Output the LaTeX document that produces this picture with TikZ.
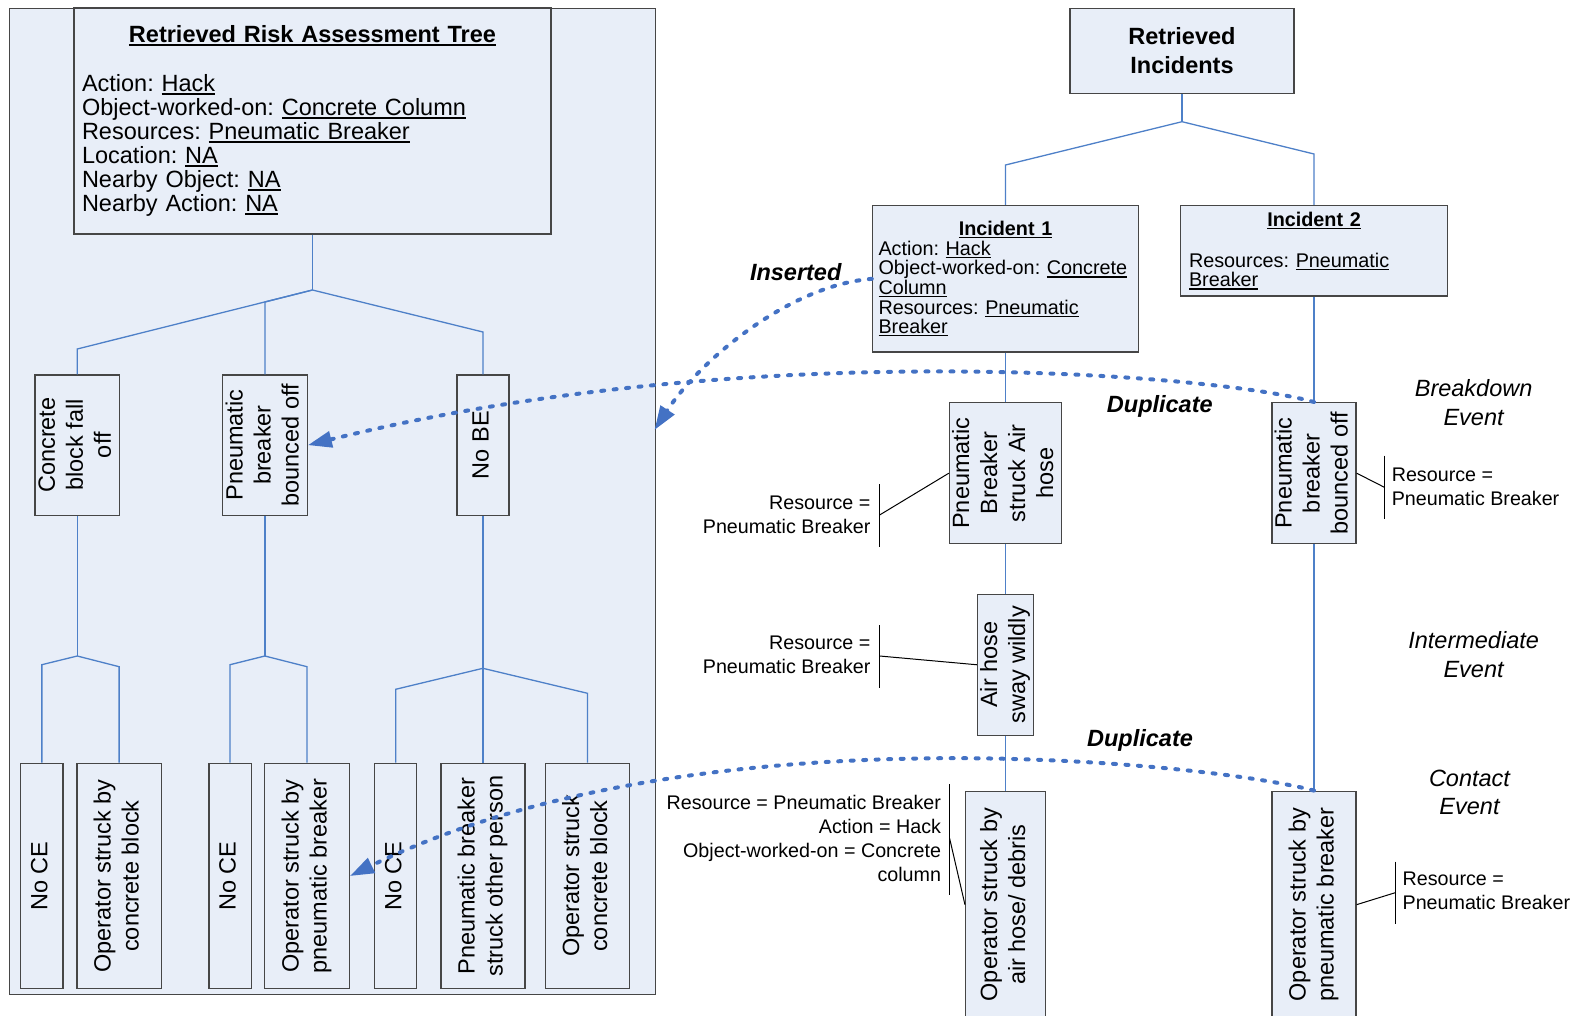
\documentclass[tikz,border=0pt]{standalone}
\usepackage{fontspec}
\setmainfont{Liberation Sans}
\usetikzlibrary{arrows.meta}

\definecolor{boxfill}{RGB}{232,238,248}
\definecolor{edge}{RGB}{70,70,70}
\definecolor{treeblue}{RGB}{78,128,200}
\definecolor{linkblue}{RGB}{68,114,196}

% underline sitting just below the baseline
\newcommand{\undl}[1]{\leavevmode\setbox0=\hbox{#1}\rlap{\rule[-0.14em]{\wd0}{0.065em}}\box0}

% rotated, centred multi-line label for the upright event boxes
\newcommand{\vtext}[1]{\rotatebox{90}{\begin{tabular}{@{}c@{}}#1\end{tabular}}}

\frenchspacing

\begin{document}
\begin{tikzpicture}[x=1pt,y=-1pt,
  box/.style={draw=edge, line width=1.4pt, fill=boxfill, inner sep=0pt},
  tree/.style={draw=treeblue, line width=1.3pt},
  note/.style={draw=black, line width=1pt},
  link/.style={draw=linkblue, line width=4pt, dash pattern=on 3pt off 9.5pt,
    line cap=round, -{Triangle[length=24pt,width=16pt]}},
  vfont/.style={font=\fontsize{23.5}{28}\selectfont},
  anno/.style={inner sep=0pt, font=\fontsize{19.7}{24}\selectfont},
  event/.style={inner sep=0pt, align=center, font=\fontsize{23.5}{28.7}\selectfont\itshape},
  tag/.style={inner sep=0pt, font=\fontsize{23.5}{28}\selectfont\bfseries\itshape}
]
\useasboundingbox (0,0) rectangle (1579,1016);

% ---------------- risk assessment tree (left panel) ----------------
\node[box, minimum width=645.5pt, minimum height=986pt, anchor=north west] (panel) at (9,8) {};

\node[box, minimum width=477pt, minimum height=226pt, text width=461pt,
      font=\fontsize{23.5}{24}\selectfont] (rat) at (312.5,121)
  {{\centering\bfseries\undl{Retrieved Risk Assessment Tree}\par}\strut\par
   \raggedright Action: \undl{Hack}\\
   Object-worked-on: \undl{Concrete Column}\\
   Resources: \undl{Pneumatic Breaker}\\
   Location: \undl{NA}\\
   Nearby Object: \undl{NA}\\
   Nearby Action: \undl{NA}};

% breakdown events
\node[box, vfont, minimum width=84.5pt, minimum height=140.3pt] (c1) at (77.25,445.15) {\vtext{Concrete\\block fall\\off}};
\node[box, vfont, minimum width=84.6pt, minimum height=140.3pt] (c2) at (264.9,445.15) {\vtext{Pneumatic\\breaker\\bounced off}};
\node[box, vfont, minimum width=51.8pt, minimum height=140.3pt] (c3) at (482.9,445.15) {\vtext{No BE}};

% contact events
\node[box, vfont, minimum width=42.5pt, minimum height=225.4pt] (g1) at (41.85,876) {\vtext{No CE}};
\node[box, vfont, minimum width=84.2pt, minimum height=225.4pt] (g2) at (119.1,876) {\vtext{Operator struck by\\concrete block}};
\node[box, vfont, minimum width=42.5pt, minimum height=225.4pt] (g3) at (230.05,876) {\vtext{No CE}};
\node[box, vfont, minimum width=84.6pt, minimum height=225.4pt] (g4) at (307,876) {\vtext{Operator struck by\\pneumatic breaker}};
\node[box, vfont, minimum width=42.1pt, minimum height=225.4pt] (g5) at (395.65,876) {\vtext{No CE}};
\node[box, vfont, minimum width=84.1pt, minimum height=225.4pt] (g6) at (482.9,876) {\vtext{Pneumatic breaker\\struck other person}};
\node[box, vfont, minimum width=84.1pt, minimum height=225.4pt] (g7) at (587.55,876) {\vtext{Operator struck\\concrete block}};

% tree branches
\coordinate (j0) at (312.5,290);
\coordinate (b1) at (77.25,349);
\coordinate (b2) at (264.9,302);
\coordinate (b3) at (482.9,332);
\draw[tree] (rat.south) -- (j0);
\draw[tree] (j0) -- (b1) -- (c1.north);
\draw[tree] (j0) -- (b2) -- (c2.north);
\draw[tree] (j0) -- (b3) -- (c3.north);

\coordinate (k1) at (77.25,656);
\coordinate (k1a) at (41.85,664.7);
\coordinate (k1b) at (119.1,666.7);
\draw[tree] (c1.south) -- (k1);
\draw[tree] (k1) -- (k1a) -- (g1.north);
\draw[tree] (k1) -- (k1b) -- (g2.north);

\coordinate (k2) at (264.9,656);
\coordinate (k2a) at (230.05,664.7);
\coordinate (k2b) at (307,666.7);
\draw[tree] (c2.south) -- (k2);
\draw[tree] (k2) -- (k2a) -- (g3.north);
\draw[tree] (k2) -- (k2b) -- (g4.north);

\coordinate (k3) at (482.9,668.3);
\coordinate (k3a) at (395.65,689.3);
\coordinate (k3c) at (587.55,693.3);
\draw[tree] (c3.south) -- (k3);
\draw[tree] (k3) -- (k3a) -- (g5.north);
\draw[tree] (k3) -- (g6.north);
\draw[tree] (k3) -- (k3c) -- (g7.north);

% ---------------- retrieved incidents (right) ----------------
\node[box, minimum width=224pt, minimum height=85pt, align=center,
      font=\fontsize{23.5}{28.7}\selectfont\bfseries] (ri) at (1182,50.8) {Retrieved\\Incidents};

\node[box, minimum width=266pt, minimum height=146.3pt, text width=254pt,
      font=\fontsize{19.8}{19.6}\selectfont] (inc1) at (1005.5,278.85)
  {{\centering\bfseries\undl{Incident 1}\par}
   \raggedright Action: \undl{Hack}\\
   Object-worked-on: \undl{Concrete}\\
   \undl{Column}\\
   Resources: \undl{Pneumatic}\\
   \undl{Breaker}};

\node[box, minimum width=266.5pt, minimum height=90.3pt, text width=250pt,
      font=\fontsize{19.8}{19.6}\selectfont] (inc2) at (1314,250.85)
  {{\centering\bfseries\undl{Incident 2}\par}\strut\par
   \raggedright Resources: \undl{Pneumatic}\\
   \undl{Breaker}};

\node[box, vfont, minimum width=112pt, minimum height=141pt] (r1) at (1005.5,473.2) {\vtext{Pneumatic\\Breaker\\struck Air\\hose}};
\node[box, vfont, minimum width=55.7pt, minimum height=140.9pt] (r2) at (1005.5,664.75) {\vtext{Air hose\\sway wildly}};
\node[box, vfont, minimum width=79.7pt, minimum height=226.7pt] (r3) at (1005.5,904.65) {\vtext{Operator struck by\\air hose/ debris}};

\node[box, vfont, minimum width=83.9pt, minimum height=141pt] (q1) at (1314,473.2) {\vtext{Pneumatic\\breaker\\bounced off}};
\node[box, vfont, minimum width=83.9pt, minimum height=226.7pt] (q2) at (1314,904.65) {\vtext{Operator struck by\\pneumatic breaker}};

\coordinate (jr) at (1182,121.7);
\coordinate (br1) at (1005.5,165);
\coordinate (br2) at (1314,154);
\draw[tree] (ri.south) -- (jr);
\draw[tree] (jr) -- (br1) -- (inc1.north);
\draw[tree] (jr) -- (br2) -- (inc2.north);
\draw[tree] (inc1.south) -- (r1.north);
\draw[tree] (r1.south) -- (r2.north);
\draw[tree] (r2.south) -- (r3.north);
\draw[tree] (inc2.south) -- (q1.north);
\draw[tree] (q1.south) -- (q2.north);

% annotations with bracket callouts
\node[anno, anchor=east, align=right] (n1) at (870.6,514.7) {Resource =\\Pneumatic Breaker};
\coordinate (n1a) at (879.6,484);
\coordinate (n1b) at (879.6,547.3);
\coordinate (n1c) at (879.6,515);
\draw[note] (n1a) -- (n1b);
\draw[note] (n1c) -- (r1.west);

\node[anno, anchor=east, align=right] (n2) at (870.6,655) {Resource =\\Pneumatic Breaker};
\coordinate (n2a) at (879.6,625);
\coordinate (n2b) at (879.6,688.3);
\coordinate (n2c) at (879.6,656);
\draw[note] (n2a) -- (n2b);
\draw[note] (n2c) -- (r2.west);

\node[anno, anchor=west, align=left] (n3) at (1391.6,486.7) {Resource =\\Pneumatic Breaker};
\coordinate (n3a) at (1384.4,455.7);
\coordinate (n3b) at (1384.4,519.3);
\coordinate (n3c) at (1384.4,487.3);
\draw[note] (n3a) -- (n3b);
\draw[note] (q1.east) -- (n3c);

\node[anno, anchor=east, align=right] (n4) at (941.2,838.3)
  {Resource = Pneumatic Breaker\\Action = Hack\\Object-worked-on = Concrete\\column};
\coordinate (n4a) at (949.6,784);
\coordinate (n4b) at (949.6,895);
\coordinate (n4c) at (949.6,838.3);
\draw[note] (n4a) -- (n4b);
\draw[note] (n4c) -- (r3.west);

\node[anno, anchor=west, align=left] (n5) at (1402.4,891.3) {Resource =\\Pneumatic Breaker};
\coordinate (n5a) at (1395.2,861.7);
\coordinate (n5b) at (1395.2,924);
\coordinate (n5c) at (1395.2,892.7);
\draw[note] (n5a) -- (n5b);
\draw[note] (q2.east) -- (n5c);

% level captions
\node[event] (ev1) at (1473.6,402.3) {Breakdown\\Event};
\node[event] (ev2) at (1473.6,654.5) {Intermediate\\Event};
\node[event] (ev3) at (1469.5,792.5) {Contact\\Event};

% insertion and duplicate links
\coordinate (ins) at (654.5,430);
\draw[link] (inc1.west) .. controls (790,285) and (700,360) .. (ins);
\draw[link] (q1.north) .. controls (1220,375) and (750,335) .. (c2.east);
\draw[link] (q2.north) .. controls (1220,765) and (700,705) .. (g4.east);

\node[tag] (ins-t) at (795.7,271.7) {Inserted};
\node[tag] (dup1) at (1159.8,406.7) {Duplicate};
\node[tag] (dup2) at (1140,740.7) {Duplicate};
\end{tikzpicture}
\end{document}
